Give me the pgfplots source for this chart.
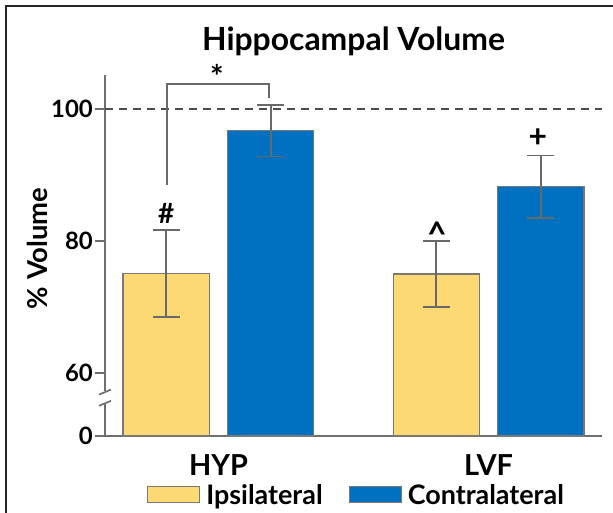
\documentclass[border=0pt]{standalone}
\usepackage{fontspec}
\setmainfont{Lato}
\usepackage{pgfplots}
\pgfplotsset{compat=1.18}
\definecolor{ipsi}{RGB}{252,217,114}
\definecolor{contra}{RGB}{0,112,192}
\definecolor{errgray}{RGB}{105,105,105}
\definecolor{axgray}{RGB}{110,110,110}
\definecolor{edgegray}{RGB}{120,120,120}
\begin{document}
\begin{tikzpicture}
\useasboundingbox (-105bp,-77bp) rectangle (508bp,436bp);
\begin{axis}[
  at={(0,0)}, anchor=south west,
  scale only axis, width=497bp, height=361bp,
  xmin=-0.42, xmax=1.42, ymin=50.45, ymax=105.15,
  clip mode=individual,
  axis x line=bottom, axis y line=left,
  axis line style={-, axgray, line width=1.7bp},
  xtick={0,1}, xticklabels={HYP,LVF},
  ytick={50.45,60,80,100}, yticklabels={0,60,80,100},
  major x tick style={draw=none},
  ytick style={axgray, line width=1.7bp},
  tick align=outside, major tick length=10bp,
  yticklabel style={font=\fontsize{24}{28}\selectfont\bfseries, inner sep=2bp},
  xticklabel style={font=\fontsize{29}{33}\selectfont\bfseries, anchor=base, yshift=-29bp},
  title={Hippocampal Volume},
  title style={at={(0.5,1.050)}, anchor=base, font=\fontsize{32}{36}\selectfont\bfseries},
  ylabel={\% Volume},
  ylabel style={at={(axis description cs:-0.135,0.52)}, anchor=center, font=\fontsize{27.5}{31}\selectfont\bfseries},
  legend style={at={(0.506,-0.163)}, anchor=center, draw=none, fill=none,
    legend columns=2, font=\fontsize{27}{31}\selectfont\bfseries,
    /tikz/every odd column/.append style={column sep=4bp},
    /tikz/every even column/.append style={column sep=24bp}},
  legend image code/.code={\draw[#1] (0bp,-8bp) rectangle (52bp,8bp);},
  error bars/y dir=both, error bars/y explicit,
  error bars/error bar style={line width=1.9bp, errgray},
  error bars/error mark options={rotate=90, mark size=13.5bp, line width=1.9bp, errgray},
]
\addplot[forget plot, dashed, color=black!70, line width=1.6bp, dash pattern=on 8bp off 6bp, error bars/y dir=none] coordinates {(-0.42,100) (1.42,100)};
\addplot[ybar, bar width=0.32, bar shift=0, fill=ipsi, draw=edgegray, line width=1.2bp]
  coordinates {(-0.193,75.1) +- (0,6.6) (0.807,75.0) +- (0,5.0)};
\addplot[ybar, bar width=0.32, bar shift=0, fill=contra, draw=edgegray, line width=1.2bp]
  coordinates {(0.193,96.7) +- (0,3.9) (1.193,88.2) +- (0,4.75)};
\legend{Ipsilateral,Contralateral}
\draw[errgray, line width=1.9bp] (axis cs:-0.191,88.5) -- (axis cs:-0.191,103.8) -- (axis cs:0.187,103.8) -- (axis cs:0.187,101.7);
\node[font=\fontsize{32}{36}\selectfont\bfseries] at (axis cs:-0.006,104.9) {*};
\node[font=\fontsize{28}{32}\selectfont\bfseries] at (axis cs:-0.193,84.2) {\#};
\node[font=\fontsize{34}{38}\selectfont\bfseries] at (axis cs:0.809,81.0) {\textasciicircum};
\node[font=\fontsize{32}{36}\selectfont\bfseries] at (axis cs:1.183,95.6) {+};
\coordinate (b1) at (axis cs:-0.42,57.1);
\coordinate (b2) at (axis cs:-0.42,55.4);
\end{axis}
\draw[white, line width=4bp] ([yshift=-1bp]b2) -- ([yshift=1bp]b1);
\draw[axgray, line width=1.7bp] ([xshift=-6bp,yshift=-2.5bp]b1) -- ([xshift=6bp,yshift=2.5bp]b1);
\draw[axgray, line width=1.7bp] ([xshift=-6bp,yshift=-2.5bp]b2) -- ([xshift=6bp,yshift=2.5bp]b2);
\draw[black!85, line width=2.5bp] (-99bp,-100bp) -- (-99bp,430bp) -- (530bp,430bp);
\end{tikzpicture}
\end{document}
